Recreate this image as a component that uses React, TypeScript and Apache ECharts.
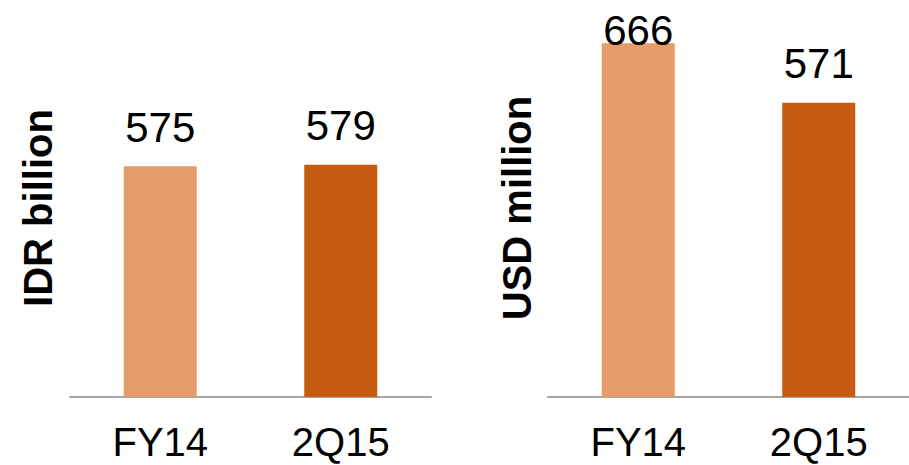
import React, { useEffect, useRef } from "react";
import * as echarts from "echarts";

const categories = ["FY14", "2Q15"];
const idrValues = [575, 579];
const usdValues = [666, 571];
const barColors = ["#E59B6A", "#C55A11"];
const leftTitle = "IDR billion";
const rightTitle = "USD million";

export default function App() {
  const ref = useRef<HTMLDivElement>(null);
  useEffect(() => {
    if (!ref.current) return;
    const chart = echarts.init(ref.current, null, { renderer: "svg" });
    const font = "'Liberation Sans', Arial, sans-serif";
    const mkData = (vals: number[], topIdx: number | null) =>
      vals.map((v, i) => ({
        value: v,
        itemStyle: { color: barColors[i] },
        label: i === topIdx ? { distance: -8 } : undefined,
      }));
    const xAxisBase = (gi: number) => ({
      type: "category",
      gridIndex: gi,
      data: categories,
      axisLine: { show: true, lineStyle: { color: "#A6A6A6", width: 2 } },
      axisTick: { show: false },
      axisLabel: { fontSize: 40, color: "#000", fontFamily: font, margin: 25 },
    });
    const labelBase = {
      show: true,
      position: "top",
      distance: 18,
      fontSize: 42,
      color: "#000",
      fontFamily: font,
    };
    chart.setOption({
      animation: false,
      grid: [
        { left: 70, top: 76, width: 361, height: 321 },
        { left: 548, top: 22, width: 361, height: 375 },
      ],
      xAxis: [xAxisBase(0), xAxisBase(1)],
      yAxis: [
        { type: "value", gridIndex: 0, min: 0, max: 800, show: false },
        { type: "value", gridIndex: 1, min: 100, max: 700, show: false },
      ],
      series: [
        {
          type: "bar",
          xAxisIndex: 0,
          yAxisIndex: 0,
          barWidth: 73,
          data: mkData(idrValues, null),
          label: labelBase,
        },
        {
          type: "bar",
          xAxisIndex: 1,
          yAxisIndex: 1,
          barWidth: 73,
          data: mkData(usdValues, 0),
          label: labelBase,
        },
      ],
      graphic: [
        {
          type: "text",
          x: 38,
          y: 208,
          rotation: Math.PI / 2,
          style: {
            text: leftTitle,
            fontSize: 40,
            fontWeight: "bold",
            fontFamily: font,
            fill: "#000",
            textAlign: "center",
            textVerticalAlign: "middle",
          },
        },
        {
          type: "text",
          x: 517,
          y: 208,
          rotation: Math.PI / 2,
          style: {
            text: rightTitle,
            fontSize: 40,
            fontWeight: "bold",
            fontFamily: font,
            fill: "#000",
            textAlign: "center",
            textVerticalAlign: "middle",
          },
        },
      ],
    });
    return () => chart.dispose();
  }, []);
  return <div ref={ref} style={{ width: 909, height: 465, position: "absolute", left: 0, top: 0 }} />;
}
